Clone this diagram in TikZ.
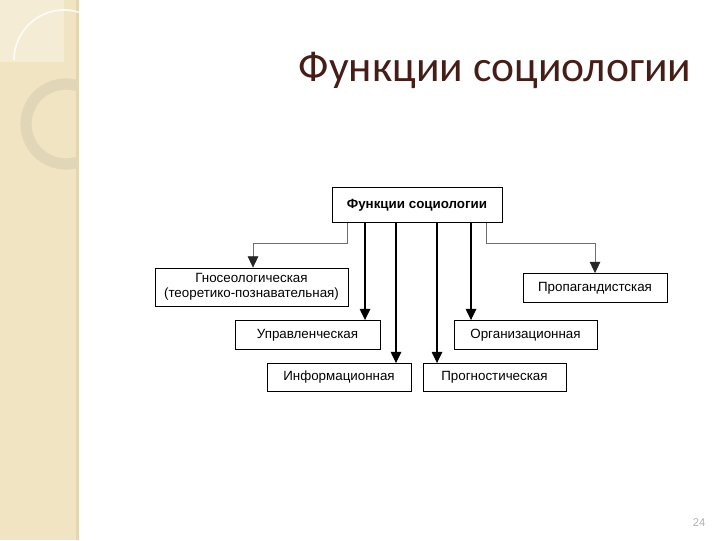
\documentclass[tikz,border=0pt]{standalone}
\usepackage{fontspec}
\setmainfont{Liberation Sans}
\newfontfamily\titlefont{Carlito}
\usepackage{tikz}
\usetikzlibrary{arrows.meta}
\usetikzlibrary{positioning}
\definecolor{sidebeige}{RGB}{240,228,194}
\definecolor{sideedge}{RGB}{228,214,176}
\definecolor{ringcol}{RGB}{226,214,184}
\definecolor{titlebrown}{RGB}{70,30,24}
\definecolor{linegray}{RGB}{110,110,110}
\tikzset{
  funcbox/.style = {draw=black, line width=0.6pt, inner sep=2pt,
    font=\fontsize{9.5}{11}\selectfont, align=center},% prostoj blok
  headbox/.style = {funcbox, font=\fontsize{9.5}{11}\selectfont\bfseries},% glavnyj blok
  mainarr/.style = {-{Triangle[width=7.5pt,length=8pt]}, line width=0.9pt},% pryamaya strelka
  sidearr/.style = {-{Triangle[width=7.5pt,length=8pt,color=black!85]}, draw=linegray,
    line width=0.5pt}% strelka s izlomom
}

\begin{document}
\begin{tikzpicture}[x=0.025cm, y=-0.025cm]
\useasboundingbox (0,0) rectangle (720,540);
\fill[white] (0,0) rectangle (720,540);
% bokovaya polosa
\fill[sidebeige] (0,0) rectangle (78,540);
\fill[sideedge] (76,0) rectangle (79,540);
\fill[white, opacity=0.3] (0,0) rectangle (64,62);
\draw[white, line width=1.2pt, opacity=0.8] (14,60) arc[start angle=180, end angle=300, radius=50];
\begin{scope}
  \clip (0,0) rectangle (78,540);
  \draw[ringcol, line width=8pt] (66,124) circle[radius=40];
\end{scope}

\node[font=\titlefont\fontsize{31}{36}\selectfont, text=titlebrown] (title) at (495,70) {Функции социологии};

\node[headbox, minimum width=170*0.025cm, minimum height=35*0.025cm] (fs) at (417,205) {Функции социологии};
\node[funcbox, minimum width=193*0.025cm, minimum height=38*0.025cm] (gnos) at (251.5,287) {Гносеологическая\\(теоретико-познавательная)};
\node[funcbox, minimum width=145*0.025cm, minimum height=29*0.025cm] (upr) at (307.5,335) {Управленческая};
\node[funcbox, minimum width=144*0.025cm, minimum height=28*0.025cm] (inf) at (339,377.5) {Информационная};
\node[funcbox, minimum width=143*0.025cm, minimum height=28*0.025cm] (prog) at (494.5,377.5) {Прогностическая};
\node[funcbox, minimum width=143*0.025cm, minimum height=29*0.025cm] (org) at (525.5,335) {Организационная};
\node[funcbox, minimum width=144*0.025cm, minimum height=29*0.025cm] (prop) at (595,288) {Пропагандистская};

\draw[sidearr] (fs.south -| 347,0) |- (253,243) -- (gnos.north -| 253,0);
\draw[mainarr] (fs.south -| 365,0) -- (upr.north -| 365,0);
\draw[mainarr] (fs.south -| 396,0) -- (inf.north -| 396,0);
\draw[mainarr] (fs.south -| 437,0) -- (prog.north -| 437,0);
\draw[mainarr] (fs.south -| 471,0) -- (org.north -| 471,0);
\draw[sidearr] (fs.south -| 486,0) |- (595,243) -- (prop.north);

\node[text=gray!60, font=\fontsize{8}{9}\selectfont] (pagenum) at (699,523) {24};
\end{tikzpicture}
\end{document}
